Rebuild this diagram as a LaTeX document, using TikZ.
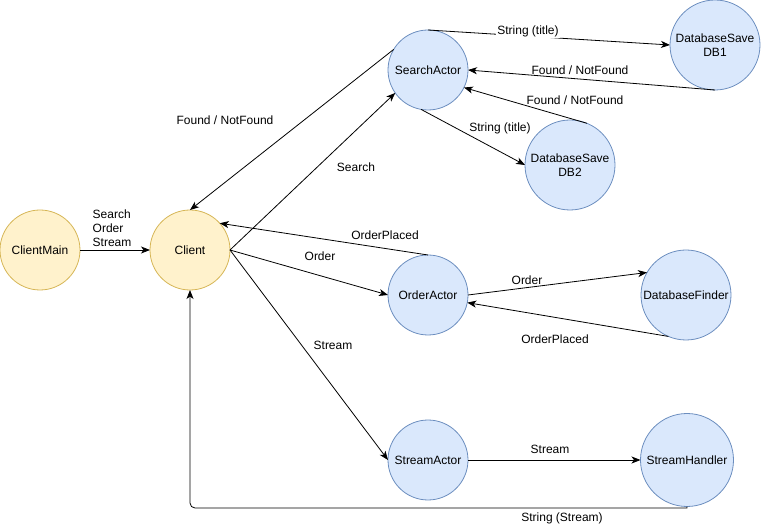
\documentclass[tikz,border=0pt]{standalone}
\usepackage{fontspec}
\setmainfont{Liberation Sans}
\usepackage{tkz-graph}
\usetikzlibrary{arrows.meta}
\usetikzlibrary{shapes}

\definecolor{clientFill}{HTML}{FFF2CC}
\definecolor{clientLine}{HTML}{D6B656}
\definecolor{actorFill}{HTML}{DAE8FC}
\definecolor{actorLine}{HTML}{6C8EBF}

\begin{document}
\begin{tikzpicture}[x = 1pt, y = -1pt, font = \fontsize{12}{14}\selectfont]
	\tikzstyle{VertexStyle} = []
	\tikzstyle{EdgeStyle} = []
	\tikzstyle{clientStyle}=[shape = circle, minimum size = 80pt, inner sep = 1.2pt, draw = clientLine, fill = clientFill, line width = 0.8pt]
	\tikzstyle{actorStyle}=[shape = circle, minimum size = 80pt, inner sep = 1.2pt, draw = actorLine, fill = actorFill, line width = 0.8pt, align = center]
	\tikzstyle{storeStyle}=[actorStyle, minimum size = 90pt]
	\tikzstyle{handlerStyle}=[actorStyle, minimum size = 93pt]
	\tikzstyle{msgStyle}=[-{Stealth[length = 9pt, width = 7pt, inset = 2.5pt]}, line width = 0.8pt]
	\tikzstyle{msgLabel}=[inner sep = 1pt]
	\useasboundingbox (0,0) rectangle (761,529);
	\Vertex[style = clientStyle, x = 40, y = 250, L = {ClientMain}]{cm}
	\Vertex[style = clientStyle, x = 190, y = 250, L = {Client}]{cl}
	\Vertex[style = actorStyle, x = 428, y = 70, L = {SearchActor}]{sa}
	\Vertex[style = storeStyle, x = 715, y = 45, L = {DatabaseSave\\DB1}]{db1}
	\Vertex[style = storeStyle, x = 570, y = 165, L = {DatabaseSave\\DB2}]{db2}
	\Vertex[style = actorStyle, x = 428, y = 295, L = {OrderActor}]{oa}
	\Vertex[style = storeStyle, x = 686, y = 295, L = {DatabaseFinder}]{df}
	\Vertex[style = actorStyle, x = 428, y = 460, L = {StreamActor}]{st}
	\Vertex[style = handlerStyle, x = 687, y = 460, L = {StreamHandler}]{sh}
	\draw[msgStyle] (cm) -- (cl);
	\draw[msgStyle] (cl.east) -- (sa.215);
	\draw[msgStyle] (sa.149) -- (cl.north);
	\draw[msgStyle] (sa.north) -- (db1.west);
	\draw[msgStyle] (db1.south) -- (sa.east);
	\draw[msgStyle] (db2.68) -- (sa.-26);
	\draw[msgStyle] (sa.260) -- (db2.west);
	\draw[msgStyle] (cl.east) -- (oa.west);
	\draw[msgStyle] (oa.north) -- (cl.42);
	\draw[msgStyle] (oa.east) -- (df.150);
	\draw[msgStyle] (df.247) -- (oa.-11);
	\draw[msgStyle] (cl.east) -- (st.west);
	\draw[msgStyle] (st.east) -- (sh.west);
	\coordinate (bend) at (190,508);
	\draw[msgStyle] (sh.south) -- (sh.south |- bend) [rounded corners = 5pt] -- (bend) -- (cl.south);
	\node[msgLabel, anchor = west, align = left] (lblMain) at (91.5,228) {Search\\Order\\Stream};
	\node[msgLabel] (lblSearch) at (356,167) {Search};
	\node[msgLabel] (lblFound) at (225,120) {Found / NotFound};
	\node[msgLabel, fill = white] (lblTitleA) at (528,31) {String (title)};
	\node[msgLabel] (lblFoundA) at (580,70) {Found / NotFound};
	\node[msgLabel] (lblFoundB) at (575,100) {Found / NotFound};
	\node[msgLabel] (lblTitleB) at (500,128) {String (title)};
	\node[msgLabel] (lblOrder) at (320,256) {Order};
	\node[msgLabel] (lblPlaced) at (385,235) {OrderPlaced};
	\node[msgLabel] (lblOrderDb) at (527,280) {Order};
	\node[msgLabel] (lblPlacedDb) at (555,339) {OrderPlaced};
	\node[msgLabel] (lblStream) at (333,345) {Stream};
	\node[msgLabel] (lblStreamH) at (550,449) {Stream};
	\node[msgLabel] (lblBack) at (562,518) {String (Stream)};
\end{tikzpicture}
\end{document}
